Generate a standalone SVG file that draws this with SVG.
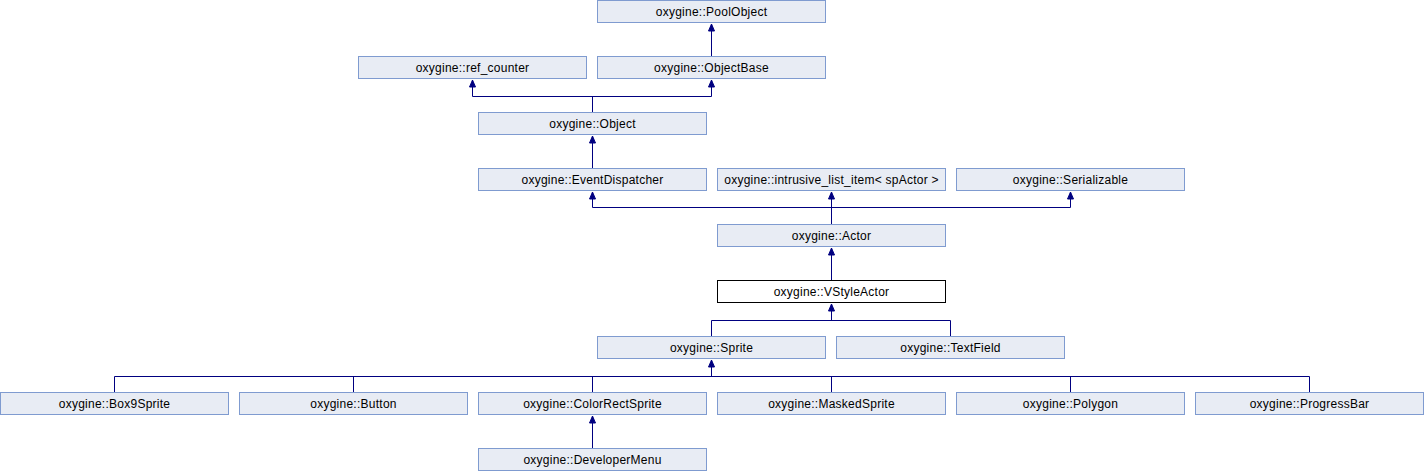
<svg xmlns="http://www.w3.org/2000/svg" width="1424" height="472" viewBox="0 0 1424 472">
<style>
.n rect{fill:#e8ecf4;stroke:#7f9bd0;stroke-width:1}
.n.h rect{fill:#ffffff;stroke:#000000}
.n text{font-family:"Liberation Sans",Arial,sans-serif;font-size:12px;letter-spacing:0.25px;fill:#000;text-anchor:middle}
.e path.l{fill:none;stroke:#000080;stroke-width:1}
.e path.a{fill:#000080;stroke:#000080;stroke-width:1}
</style>
<g id="connectors" class="e">
<path class="l" d="M711.5,56 V24"/>
<path class="l" d="M592.5,112 V96.5 M472.5,96.5 H711.5 M472.5,96.5 V80 M711.5,96.5 V80"/>
<path class="l" d="M592.5,168 V136"/>
<path class="l" d="M831.5,224 V207.5 M592.5,207.5 H1070.5 M592.5,207.5 V192 M831.5,207.5 V192 M1070.5,207.5 V192"/>
<path class="l" d="M831.5,280 V248"/>
<path class="l" d="M831.5,320.5 V304 M711.5,320.5 H950.5 M711.5,320.5 V336 M950.5,320.5 V336"/>
<path class="l" d="M711.5,376.5 V360 M114.5,376.5 H1309.5 M114.5,376.5 V392 M353.5,376.5 V392 M592.5,376.5 V392 M831.5,376.5 V392 M1070.5,376.5 V392 M1309.5,376.5 V392"/>
<path class="l" d="M592.5,448 V416"/>
<path class="a" d="M711.5,24 l-3,7 h6 z"/>
<path class="a" d="M472.5,80 l-3,7 h6 z"/>
<path class="a" d="M711.5,80 l-3,7 h6 z"/>
<path class="a" d="M592.5,136 l-3,7 h6 z"/>
<path class="a" d="M592.5,192 l-3,7 h6 z"/>
<path class="a" d="M831.5,192 l-3,7 h6 z"/>
<path class="a" d="M1070.5,192 l-3,7 h6 z"/>
<path class="a" d="M831.5,248 l-3,7 h6 z"/>
<path class="a" d="M831.5,304 l-3,7 h6 z"/>
<path class="a" d="M711.5,360 l-3,7 h6 z"/>
<path class="a" d="M592.5,416 l-3,7 h6 z"/>
</g>
<g id="PoolObject" class="n"><rect x="597.5" y="0.5" width="228" height="22"/><text x="711.5" y="16">oxygine::PoolObject</text></g>
<g id="ref_counter" class="n"><rect x="358.5" y="56.5" width="228" height="22"/><text x="472.5" y="72">oxygine::ref_counter</text></g>
<g id="ObjectBase" class="n"><rect x="597.5" y="56.5" width="228" height="22"/><text x="711.5" y="72">oxygine::ObjectBase</text></g>
<g id="Object" class="n"><rect x="478.5" y="112.5" width="228" height="22"/><text x="592.5" y="128">oxygine::Object</text></g>
<g id="EventDispatcher" class="n"><rect x="478.5" y="168.5" width="228" height="22"/><text x="592.5" y="184">oxygine::EventDispatcher</text></g>
<g id="intrusive_list_item" class="n"><rect x="717.5" y="168.5" width="228" height="22"/><text x="831.5" y="184">oxygine::intrusive_list_item&lt; spActor &gt;</text></g>
<g id="Serializable" class="n"><rect x="956.5" y="168.5" width="228" height="22"/><text x="1070.5" y="184">oxygine::Serializable</text></g>
<g id="Actor" class="n"><rect x="717.5" y="224.5" width="228" height="22"/><text x="831.5" y="240">oxygine::Actor</text></g>
<g id="VStyleActor" class="n h"><rect x="717.5" y="280.5" width="228" height="22"/><text x="831.5" y="296">oxygine::VStyleActor</text></g>
<g id="Sprite" class="n"><rect x="597.5" y="336.5" width="228" height="22"/><text x="711.5" y="352">oxygine::Sprite</text></g>
<g id="TextField" class="n"><rect x="836.5" y="336.5" width="228" height="22"/><text x="950.5" y="352">oxygine::TextField</text></g>
<g id="Box9Sprite" class="n"><rect x="0.5" y="392.5" width="228" height="22"/><text x="114.5" y="408">oxygine::Box9Sprite</text></g>
<g id="Button" class="n"><rect x="239.5" y="392.5" width="228" height="22"/><text x="353.5" y="408">oxygine::Button</text></g>
<g id="ColorRectSprite" class="n"><rect x="478.5" y="392.5" width="228" height="22"/><text x="592.5" y="408">oxygine::ColorRectSprite</text></g>
<g id="MaskedSprite" class="n"><rect x="717.5" y="392.5" width="228" height="22"/><text x="831.5" y="408">oxygine::MaskedSprite</text></g>
<g id="Polygon" class="n"><rect x="956.5" y="392.5" width="228" height="22"/><text x="1070.5" y="408">oxygine::Polygon</text></g>
<g id="ProgressBar" class="n"><rect x="1195.5" y="392.5" width="228" height="22"/><text x="1309.5" y="408">oxygine::ProgressBar</text></g>
<g id="DeveloperMenu" class="n"><rect x="478.5" y="448.5" width="228" height="22"/><text x="592.5" y="464">oxygine::DeveloperMenu</text></g>
</svg>
